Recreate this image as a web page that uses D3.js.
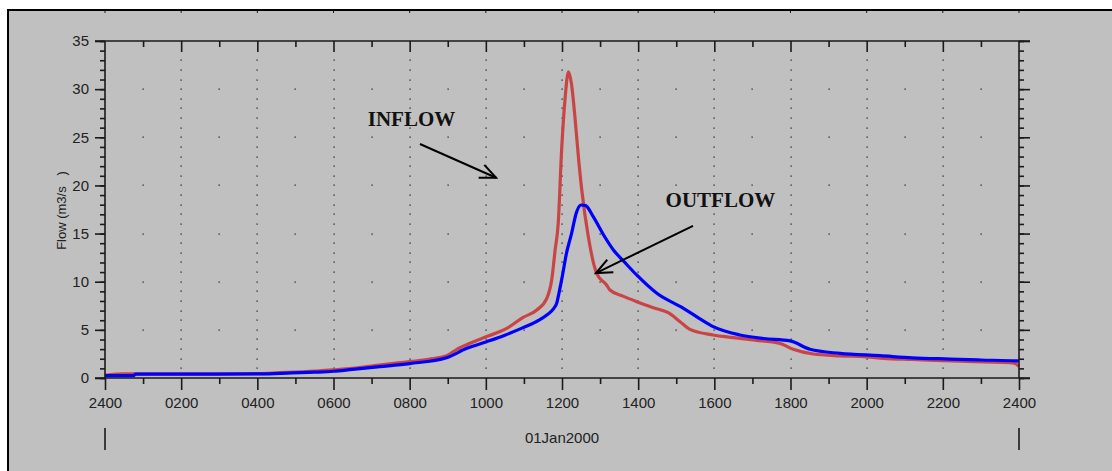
<!DOCTYPE html>
<html>
<head>
<meta charset="utf-8">
<script src="https://cdn.jsdelivr.net/npm/d3@7"></script>
<style>
  html, body { margin: 0; padding: 0; background: #fff; }
  svg { display: block; }
</style>
</head>
<body>
<div id="chart"></div>
<script>
// time in hours after 2400 of 31Dec1999, flow in m3/s
const inflowHours = [0, 0.5, 1, 2, 3, 4, 4.6, 5.2, 6.0, 6.5, 7.2, 7.75, 8.0, 8.5, 8.97, 9.24, 9.58, 10.02, 10.55, 10.98, 11.34, 11.6, 11.73, 11.82, 11.9, 11.99, 12.08, 12.17, 12.25, 12.34, 12.43, 12.52, 12.69, 12.91, 13.17, 13.26, 13.6, 13.96, 14.4, 14.79, 15.1, 15.36, 15.97, 16.5, 17.02, 17.72, 18.07, 18.6, 19.3, 20.0, 20.44, 21.2, 22.0, 23.06, 23.76, 23.9, 24];
const inflowValues = [0.28, 0.42, 0.42, 0.42, 0.43, 0.45, 0.55, 0.65, 0.85, 1.0, 1.35, 1.6, 1.7, 1.95, 2.3, 2.98, 3.6, 4.3, 5.15, 6.3, 7.06, 8.27, 10.2, 13.3, 16.0, 23.7, 29.0, 31.8, 30.5, 27.1, 23.0, 19.5, 14.7, 10.87, 9.66, 9.14, 8.5, 7.93, 7.3, 6.78, 5.85, 5.05, 4.47, 4.2, 3.95, 3.6, 2.98, 2.49, 2.3, 2.2, 2.04, 1.92, 1.8, 1.66, 1.6, 1.5, 1.2];

const outflowHours = [0, 0.75, 0.8, 2, 4, 4.6, 5.5, 6.0, 6.5, 7.22, 8.0, 8.97, 9.5, 10.02, 10.5, 10.98, 11.3, 11.6, 11.78, 11.86, 11.93, 12.0, 12.12, 12.25, 12.38, 12.5, 12.62, 12.82, 13.1, 13.35, 13.65, 13.96, 14.49, 15.19, 15.6, 15.97, 16.67, 17.3, 17.99, 18.51, 19.3, 20.35, 21.2, 22.19, 23.0, 23.94, 24];
const outflowValues = [0.24, 0.24, 0.4, 0.4, 0.42, 0.48, 0.6, 0.7, 0.9, 1.18, 1.5, 2.1, 3.08, 3.77, 4.45, 5.23, 5.8, 6.54, 7.2, 7.76, 9.0, 10.4, 13.0, 15.0, 17.2, 17.97, 17.9, 16.75, 14.8, 13.3, 12.0, 10.7, 8.8, 7.24, 6.2, 5.33, 4.47, 4.1, 3.85, 2.98, 2.56, 2.32, 2.1, 1.97, 1.87, 1.77, 1.75];

const xTickLabels = ["2400", "0200", "0400", "0600", "0800", "1000", "1200", "1400", "1600", "1800", "2000", "2200", "2400"];
const yTickValues = [0, 5, 10, 15, 20, 25, 30, 35];
const dateLabel = "01Jan2000";
const yTitle = "Flow (m3/s   )";

// annotation anchors in data units (hours, flow)
const annotations = [
  {text: "INFLOW", at: [6.9, 26.2], from: [8.27, 24.3], to: [10.27, 20.8]},
  {text: "OUTFLOW", at: [14.72, 17.76], from: [15.44, 15.8], to: [12.89, 10.9]}
];

const W = 1112, H = 471;
const sans = "'Liberation Sans', Arial, sans-serif";
const axisColor = "#1a1a1a";

const svg = d3.select("#chart").append("svg")
  .attr("width", W)
  .attr("height", H);

// outer panel
svg.append("rect")
  .attr("x", 8).attr("y", 10)
  .attr("width", W + 10).attr("height", H + 10)
  .attr("fill", "#c0c0c0")
  .attr("stroke", "#000")
  .attr("stroke-width", 2);

const x = d3.scaleLinear().domain([0, 24]).range([105, 1019]);
const y = d3.scaleLinear().domain([0, 35]).range([378, 41]);

const majorX = d3.range(0, 25, 2);
const minorX = d3.range(1, 24, 2);
const minorY = d3.range(0, 36, 1);

// small marks on the panel top edge
svg.append("g").selectAll("line").data(majorX).join("line")
  .attr("x1", d => x(d)).attr("x2", d => x(d))
  .attr("y1", 11).attr("y2", 13)
  .attr("stroke", axisColor);

// dotted grid
const dots = [];
majorX.slice(1, -1).forEach(h => d3.range(1, 34).forEach(v => dots.push([h, v])));
minorX.forEach(h => d3.range(5, 35, 5).forEach(v => dots.push([h, v])));
svg.append("g").selectAll("rect").data(dots).join("rect")
  .attr("x", d => Math.round(x(d[0])) - 0.5)
  .attr("y", d => Math.round(y(d[1])) - 0.5)
  .attr("width", 1.2).attr("height", 1.2)
  .attr("fill", "#111");

// curves
const line = d3.line()
  .x(d => x(d[0]))
  .y(d => y(d[1]))
  .curve(d3.curveMonotoneX);

svg.append("path")
  .datum(d3.zip(inflowHours, inflowValues))
  .attr("fill", "none")
  .attr("stroke", "#c94545")
  .attr("stroke-width", 3.2)
  .attr("stroke-linejoin", "round")
  .attr("d", line);

svg.append("path")
  .datum(d3.zip(outflowHours, outflowValues))
  .attr("fill", "none")
  .attr("stroke", "#0000ff")
  .attr("stroke-width", 3.2)
  .attr("stroke-linejoin", "round")
  .attr("d", line);

// frame lines around plot
const frame = svg.append("g").attr("stroke", axisColor).attr("stroke-width", 1.6);
frame.append("line").attr("x1", 95).attr("x2", 1030).attr("y1", y(0)).attr("y2", y(0));
frame.append("line").attr("x1", 95).attr("x2", 1030).attr("y1", y(35)).attr("y2", y(35));
frame.append("line").attr("x1", x(0)).attr("x2", x(0)).attr("y1", y(35)).attr("y2", y(0));
frame.append("line").attr("x1", x(24)).attr("x2", x(24)).attr("y1", y(35)).attr("y2", y(0));

const styleAxis = g => {
  g.select(".domain").remove();
  g.selectAll(".tick line").attr("stroke", axisColor).attr("stroke-width", 1.6);
  g.selectAll("text").attr("fill", "#222").attr("font-family", sans).attr("font-size", 15);
};

// bottom axis
svg.append("g")
  .attr("transform", `translate(0,${y(0)})`)
  .call(d3.axisBottom(x).tickValues(minorX).tickSize(6).tickFormat(""))
  .call(styleAxis);
svg.append("g")
  .attr("transform", `translate(0,${y(0)})`)
  .call(d3.axisBottom(x).tickValues(majorX).tickSize(12).tickFormat((d, i) => xTickLabels[i]))
  .call(styleAxis)
  .call(g => g.selectAll("text").attr("y", 30).attr("dy", null));

// top axis (ticks pointing inward)
svg.append("g")
  .attr("transform", `translate(0,${y(35)})`)
  .call(d3.axisBottom(x).tickValues(minorX).tickSize(6).tickFormat(""))
  .call(styleAxis);
svg.append("g")
  .attr("transform", `translate(0,${y(35)})`)
  .call(d3.axisBottom(x).tickValues(majorX.slice(1, -1)).tickSize(11).tickFormat(""))
  .call(styleAxis);

// left axis
svg.append("g")
  .attr("transform", `translate(${x(0)},0)`)
  .call(d3.axisLeft(y).tickValues(minorY).tickSize(5).tickFormat(""))
  .call(styleAxis);
svg.append("g")
  .attr("transform", `translate(${x(0)},0)`)
  .call(d3.axisLeft(y).tickValues(yTickValues).tickSize(10).tickPadding(6))
  .call(styleAxis);

// right axis
svg.append("g")
  .attr("transform", `translate(${x(24)},0)`)
  .call(d3.axisRight(y).tickValues(minorY).tickSize(5).tickFormat(""))
  .call(styleAxis);
svg.append("g")
  .attr("transform", `translate(${x(24)},0)`)
  .call(d3.axisRight(y).tickValues(yTickValues).tickSize(11).tickFormat(""))
  .call(styleAxis);

// y title
svg.append("text")
  .attr("transform", `translate(66,${(y(0) + y(35)) / 2 + 1}) rotate(-90)`)
  .attr("text-anchor", "middle")
  .attr("font-family", sans)
  .attr("font-size", 13)
  .attr("fill", "#222")
  .attr("xml:space", "preserve")
  .style("white-space", "pre")
  .text(yTitle);

// date row
svg.append("text")
  .attr("x", (x(0) + x(24)) / 2)
  .attr("y", 443)
  .attr("text-anchor", "middle")
  .attr("font-family", sans)
  .attr("font-size", 15)
  .attr("fill", "#222")
  .text(dateLabel);
svg.append("g").selectAll("line").data([0, 24]).join("line")
  .attr("x1", d => x(d)).attr("x2", d => x(d))
  .attr("y1", 428).attr("y2", 450)
  .attr("stroke", axisColor)
  .attr("stroke-width", 1.6);

// annotations
svg.append("defs").append("marker")
  .attr("id", "arrow")
  .attr("markerUnits", "userSpaceOnUse")
  .attr("markerWidth", 20).attr("markerHeight", 20)
  .attr("refX", 0).attr("refY", 0)
  .attr("viewBox", "-18 -10 20 20")
  .attr("orient", "auto")
  .append("path")
  .attr("d", "M-16,-7L0,0L-16,7")
  .attr("fill", "none")
  .attr("stroke", "#000")
  .attr("stroke-width", 2);

const ann = svg.append("g");
ann.selectAll("line").data(annotations).join("line")
  .attr("x1", d => x(d.from[0])).attr("y1", d => y(d.from[1]))
  .attr("x2", d => x(d.to[0])).attr("y2", d => y(d.to[1]))
  .attr("stroke", "#000")
  .attr("stroke-width", 2)
  .attr("marker-end", "url(#arrow)");
ann.selectAll("text").data(annotations).join("text")
  .attr("x", d => x(d.at[0])).attr("y", d => y(d.at[1]))
  .attr("font-family", "'Liberation Serif', 'Times New Roman', serif")
  .attr("font-weight", "bold")
  .attr("font-size", 21)
  .attr("fill", "#111")
  .text(d => d.text);
</script>
</body>
</html>
